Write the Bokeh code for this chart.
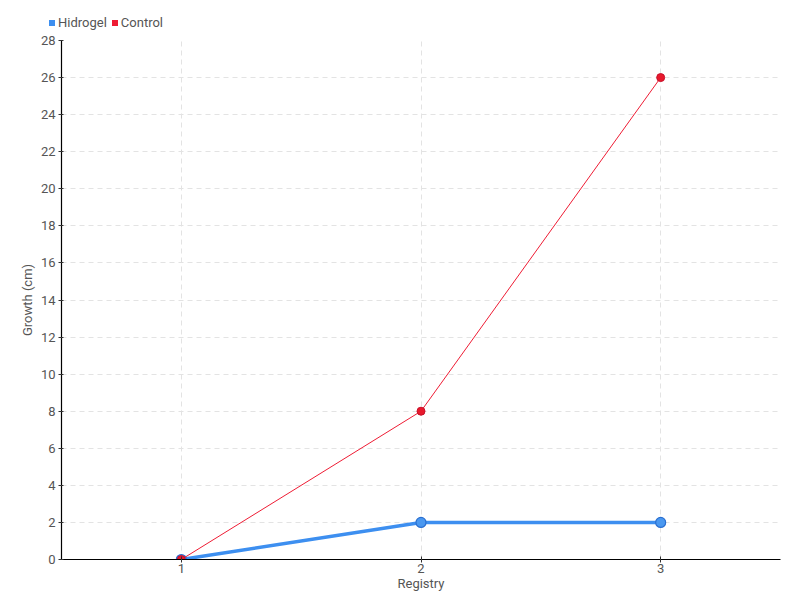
from bokeh.plotting import figure
from bokeh.layouts import column
from bokeh.models import Range1d, FixedTicker, Div
from bokeh.embed import file_html
from bokeh.resources import INLINE

registry = [1, 2, 3]
hidrogel = [0, 2, 2]
control = [0, 8, 26]
y_ticks = list(range(0, 29, 2))
series_names = ["Hidrogel", "Control"]

FONT = "Roboto"
TXT = "#555555"
blue = "#3d8ff0"
red = "#ee1c34"
series_colors = [blue, red]

# legend strip above the chart
items = []
for name, col in zip(series_names, series_colors):
    items.append(
        f'<span style="display:inline-block;width:6px;height:6px;background:{col};'
        f'margin-right:3px;vertical-align:1px"></span>{name}'
    )
legend_html = '<span style="margin-right:5px"></span>'.join(items)
lf = Div(text=legend_html, width=800, height=32, margin=0,
         styles={"font-family": FONT, "font-size": "13px", "color": TXT,
                 "padding-left": "49px", "padding-top": "15px", "line-height": "16px",
                 "box-sizing": "border-box"})

p = figure(width=800, height=568, output_backend="svg", toolbar_location=None,
           x_range=Range1d(0.5, 3.5), y_range=Range1d(0, 28),
           min_border_left=61, min_border_right=20, min_border_top=8, min_border_bottom=41)
p.outline_line_color = None

p.line(registry, hidrogel, line_color=blue, line_width=3.5)
p.scatter(registry, hidrogel, size=10, fill_color="#4a98f0", line_color="#2a6fd0", line_width=1.2)
p.line(registry, control, line_color=red, line_width=1)
p.scatter(registry, control, size=8, fill_color="#e8192c", line_color="#c8102a", line_width=1)

p.xaxis.ticker = FixedTicker(ticks=registry)
p.yaxis.ticker = FixedTicker(ticks=y_ticks)
p.xaxis.axis_label = "Registry"
p.yaxis.axis_label = "Growth (cm)"
for ax in (p.xaxis, p.yaxis):
    ax.axis_line_color = "#000000"
    ax.axis_line_width = 1.2
    ax.major_tick_line_color = "#333333"
    ax.minor_tick_line_color = None
    ax.major_label_text_font = FONT
    ax.major_label_text_font_size = "13px"
    ax.major_label_text_color = TXT
    ax.axis_label_text_font = FONT
    ax.axis_label_text_font_size = "13px"
    ax.axis_label_text_font_style = "normal"
    ax.axis_label_text_color = TXT
p.xaxis.major_tick_in = 3
p.xaxis.major_tick_out = 3
p.xaxis.major_label_standoff = 1
p.xaxis.axis_label_standoff = 0
p.yaxis.major_tick_in = 2
p.yaxis.major_tick_out = 3
p.yaxis.major_label_standoff = 3
p.yaxis.axis_label_standoff = 3

p.grid.grid_line_color = "#e3e3e3"
p.grid.grid_line_dash = "5 4"
p.grid.grid_line_width = 1

layout = column(lf, p, spacing=0)
open("out.html", "w").write(file_html(layout, INLINE))
